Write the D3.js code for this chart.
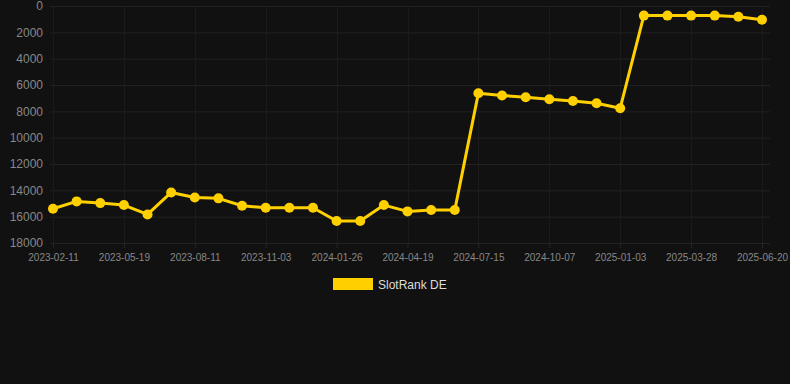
<!DOCTYPE html>
<html>
<head>
<meta charset="utf-8">
<script src="https://cdn.jsdelivr.net/npm/d3@7"></script>
<style>
  html, body { margin: 0; padding: 0; background: #111111; }
  svg { display: block; font-family: "Liberation Sans", Arial, sans-serif; }
</style>
</head>
<body>
<div id="chart"></div>
<script>
// Ranking data (lower = better), one point per period
const dates = [
    '2023-02-11', '2023-03-15', '2023-04-17', '2023-05-19', '2023-06-16', '2023-07-14',
    '2023-08-11', '2023-09-08', '2023-10-06', '2023-11-03', '2023-12-01', '2023-12-29',
    '2024-01-26', '2024-02-23', '2024-03-22', '2024-04-19', '2024-05-17', '2024-06-14',
    '2024-07-15', '2024-08-12', '2024-09-09', '2024-10-07', '2024-11-04', '2024-12-02',
    '2025-01-03', '2025-01-31', '2025-02-28', '2025-03-28', '2025-04-25', '2025-05-23',
    '2025-06-20'
];
const ranks = [
    15400, 14840, 14970, 15120, 15830, 14160,
    14540, 14610, 15170, 15320, 15320, 15320,
    16330, 16330, 15120, 15600, 15500, 15500,
    6620, 6800, 6930, 7080, 7210, 7380,
    7760, 730, 730, 730, 730, 810,
    1040
];
const yTicks = [0, 2000, 4000, 6000, 8000, 10000, 12000, 14000, 16000, 18000];
const seriesName = 'SlotRank DE';

const W = 790, H = 384;
const lineColor = '#FFD000';

const svg = d3.select('#chart')
    .append('svg')
    .attr('width', W)
    .attr('height', H);

svg.append('rect')
    .attr('width', W)
    .attr('height', H)
    .attr('fill', '#111111');

const xScale = d3.scalePoint()
    .domain(dates)
    .range([53, 762]);

const yScale = d3.scaleLinear()
    .domain([0, 18000])
    .range([6, 243]);

// Horizontal grid
svg.append('g')
    .selectAll('line')
    .data(yTicks)
    .join('line')
    .attr('x1', 50)
    .attr('x2', 770)
    .attr('y1', d => yScale(d) + 0.5)
    .attr('y2', d => yScale(d) + 0.5)
    .attr('stroke', '#222222')
    .attr('stroke-width', 1);

// Vertical grid on labelled dates
const labelled = dates.filter((d, i) => i % 3 === 0);
svg.append('g')
    .selectAll('line')
    .data(labelled)
    .join('line')
    .attr('x1', d => Math.round(xScale(d)) + 0.5)
    .attr('x2', d => Math.round(xScale(d)) + 0.5)
    .attr('y1', 6)
    .attr('y2', 243)
    .attr('stroke', '#1b1b1b')
    .attr('stroke-width', 1);

// Y axis labels
const yAxis = d3.axisLeft(yScale)
    .tickValues(yTicks)
    .tickSize(0)
    .tickPadding(0)
    .tickFormat(d3.format('d'));

const yG = svg.append('g')
    .attr('transform', 'translate(43,0)')
    .call(yAxis);
yG.select('.domain').remove();
yG.selectAll('text')
    .attr('fill', '#888888')
    .style('font-size', '12px');

// X axis labels
const xAxis = d3.axisBottom(xScale)
    .tickValues(labelled)
    .tickSize(5)
    .tickPadding(6);

const xG = svg.append('g')
    .attr('transform', 'translate(0,243)')
    .call(xAxis);
xG.select('.domain').remove();
xG.selectAll('line').attr('stroke', '#262626');
xG.selectAll('text')
    .attr('fill', '#888888')
    .style('font-size', '10px');

// Line
const line = d3.line()
    .x((d, i) => xScale(dates[i]))
    .y(d => yScale(d));

svg.append('path')
    .datum(ranks)
    .attr('d', line)
    .attr('fill', 'none')
    .attr('stroke', lineColor)
    .attr('stroke-width', 3)
    .attr('stroke-linejoin', 'round');

svg.append('g')
    .selectAll('circle')
    .data(ranks)
    .join('circle')
    .attr('cx', (d, i) => xScale(dates[i]))
    .attr('cy', d => yScale(d))
    .attr('r', 5)
    .attr('fill', lineColor);

// Legend
const legend = svg.append('g')
    .attr('transform', 'translate(333,278)');

legend.append('rect')
    .attr('width', 40)
    .attr('height', 12)
    .attr('fill', lineColor);

legend.append('text')
    .attr('x', 45)
    .attr('y', 11)
    .attr('fill', '#dddddd')
    .style('font-size', '12px')
    .text(seriesName);
</script>
</body>
</html>
